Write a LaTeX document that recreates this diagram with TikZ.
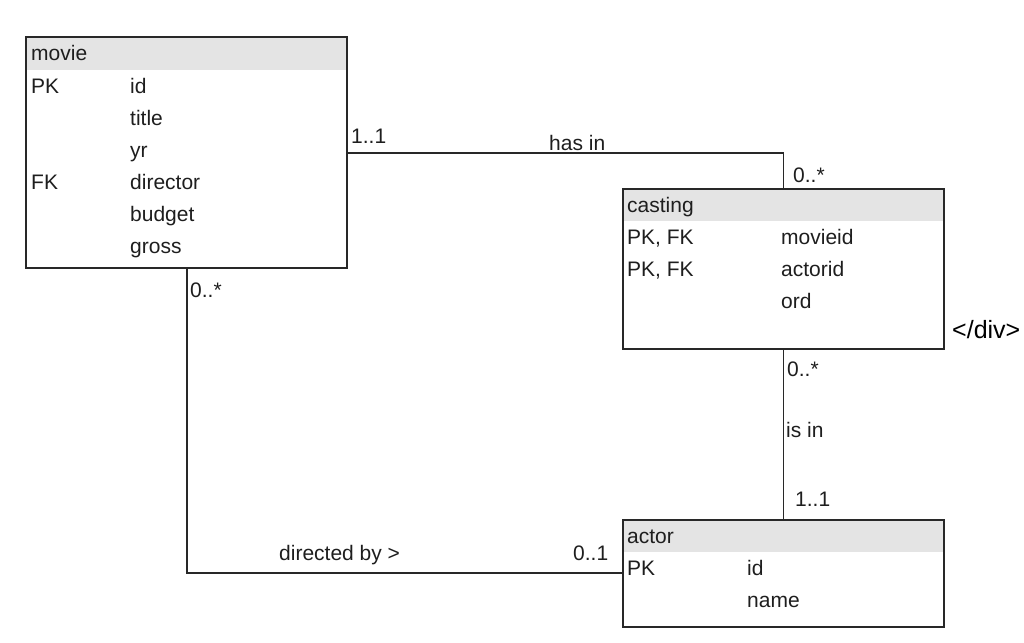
\documentclass[tikz,border=0pt]{standalone}
\usepackage{fontspec}
\setmainfont{Liberation Sans}
\definecolor{hdr}{RGB}{228,228,228}
\definecolor{ln}{RGB}{40,40,40}
\definecolor{tx}{RGB}{30,30,30}
\begin{document}
\begin{tikzpicture}[x=1pt,y=-1pt,
  entity/.style={draw=ln,line width=1.4pt,anchor=north west,inner sep=0pt,outer sep=0pt},
  txt/.style={anchor=base west,inner sep=0pt,text=tx,font=\fontsize{21}{24}\selectfont},
  conn/.style={draw=ln,line width=1.3pt}]
\useasboundingbox (0,0) rectangle (1024,642);
% header fills
\fill[hdr] (26,37) rectangle (347,70);
\fill[hdr] (623,189) rectangle (944,221);
\fill[hdr] (623,520) rectangle (944,552);
% boxes
\node[entity,minimum width=321pt,minimum height=231pt] (movie) at (26,37) {};
\node[entity,minimum width=321pt,minimum height=160pt] (casting) at (623,189) {};
\node[entity,minimum width=321pt,minimum height=107pt] (actor) at (623,520) {};
% movie texts
\node[txt] (mh) at (31,60) {movie};
\node[txt] (m1a) at (31,93) {PK};
\node[txt] (m1b) at (130,93) {id};
\node[txt] (m2) at (130,125) {title};
\node[txt] (m3) at (130,157) {yr};
\node[txt] (m4a) at (31,189) {FK};
\node[txt] (m4b) at (130,189) {director};
\node[txt] (m5) at (130,221) {budget};
\node[txt] (m6) at (130,253) {gross};
% casting texts
\node[txt] (ch) at (627,212) {casting};
\node[txt] (c1a) at (627,244) {PK, FK};
\node[txt] (c1b) at (781,244) {movieid};
\node[txt] (c2a) at (627,276) {PK, FK};
\node[txt] (c2b) at (781,276) {actorid};
\node[txt] (c3) at (781,308) {ord};
\node[txt,text=black,font=\fontsize{25}{28}\selectfont] (div) at (952,338) {</div>};
% actor texts
\node[txt] (ah) at (627,543) {actor};
\node[txt] (a1a) at (627,575) {PK};
\node[txt] (a1b) at (747,575) {id};
\node[txt] (a2) at (747,607) {name};
% connectors
\coordinate (k1) at (784,153);
\draw[conn] (k1 -| movie.east) -- (k1 -| casting.north) -- (casting.north);
\draw[conn] (casting.south) -- (actor.north);
\coordinate (k2) at (187,573);
\draw[conn] (movie.south -| k2) -- (k2) -- (k2 -| actor.west);
% connector labels
\node[txt] (l1) at (351,143) {1..1};
\node[txt] (l2) at (549,150) {has in};
\node[txt] (l3) at (793,182) {0..*};
\node[txt] (l4) at (787,376) {0..*};
\node[txt] (l5) at (786,437) {is in};
\node[txt] (l6) at (795,506) {1..1};
\node[txt] (l7) at (190,297) {0..*};
\node[txt] (l8) at (279,560) {directed by >};
\node[txt] (l9) at (573,560) {0..1};
\end{tikzpicture}
\end{document}
